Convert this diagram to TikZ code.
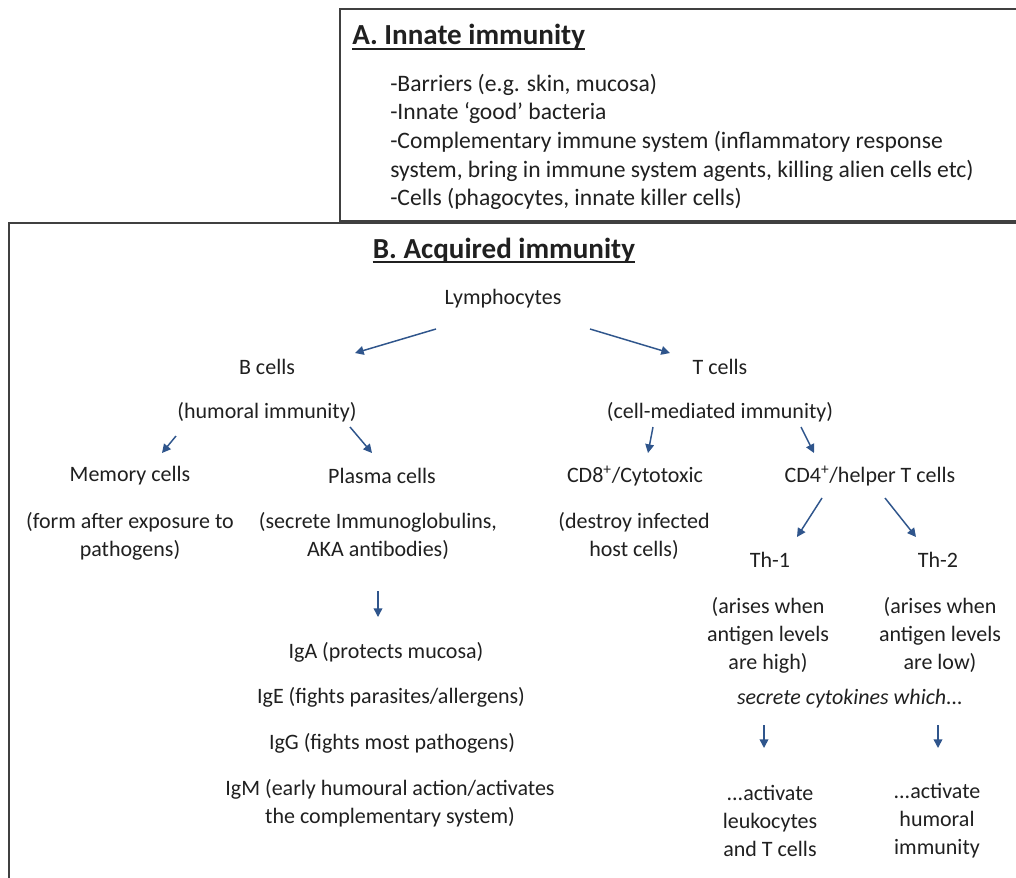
\documentclass[tikz,border=0pt]{standalone}
\usepackage{fontspec}
\setmainfont{Carlito}
\usetikzlibrary{arrows.meta}
\definecolor{arr}{RGB}{47,85,140}
\definecolor{txt}{RGB}{32,32,32}
\definecolor{frame}{RGB}{64,64,64}
\begin{document}
\begin{tikzpicture}[x=0.75pt,y=-0.75pt,
  every node/.style={text=txt, font=\fontsize{16.5}{21}\selectfont, inner sep=0pt},
  lbl/.style={align=center},
  inn/.style={anchor=west, font=\fontsize{17.7}{21}\selectfont},
  arrow/.style={draw=arr, line width=1.1pt, -{Triangle[length=6.5pt,width=6.5pt]}},
  ttl/.style={font=\fontsize{21.8}{26}\selectfont\bfseries},
  box/.style={draw=frame, line width=1.5pt},
  uline/.style={draw=txt, line width=1.4pt}]
\useasboundingbox (0,0) rectangle (1016,877);
\clip (0,0) rectangle (1016,877);
\fill[white] (0,0) rectangle (1016,877);
% boxes
\draw[box] (340,9) rectangle (1040,221);
\draw[box] (9,223) rectangle (1040,900);
% A
\node[ttl, anchor=base west] (titleA) at (352,45) {A. Innate immunity};
\draw[uline] ([yshift=-3pt]titleA.base west) -- ([yshift=-3pt]titleA.base east);
\node[inn] (in1) at (390,85) {-Barriers (e.g. skin, mucosa)};
\node[inn] (in2) at (390,113) {-Innate ‘good’ bacteria};
\node[inn] (in3) at (390,142) {-Complementary immune system (inflammatory response};
\node[inn] (in4) at (390,171) {system, bring in immune system agents, killing alien cells etc)};
\node[inn] (in5) at (390,199) {-Cells (phagocytes, innate killer cells)};
% B
\node[ttl, anchor=base] (titleB) at (504,258) {B. Acquired immunity};
\draw[uline] ([yshift=-3pt]titleB.base west) -- ([yshift=-3pt]titleB.base east);
\node (lym) at (503,299) {Lymphocytes};
\node (bc) at (267,367) {B cells};
\node (tc) at (720,367) {T cells};
\node (hum) at (267,412) {(humoral immunity)};
\node (cmi) at (720,412) {(cell-mediated immunity)};
\node (mem) at (130,476) {Memory cells};
\node (pla) at (382,476) {Plasma cells};
\node (cd8) at (635,476) {CD8\textsuperscript{+}/Cytotoxic};
\node (cd4) at (870,476) {CD4\textsuperscript{+}/helper T cells};
\node[lbl] (memd) at (130,536) {(form after exposure to\\pathogens)};
\node[lbl] (plad) at (378,536) {(secrete Immunoglobulins,\\AKA antibodies)};
\node[lbl] (cd8d) at (634,536) {(destroy infected\\host cells)};
\node (th1) at (770,560) {Th-1};
\node (th2) at (938,560) {Th-2};
\node[lbl] (th1d) at (768,635) {(arises when\\antigen levels\\are high)};
\node[lbl] (th2d) at (940,635) {(arises when\\antigen levels\\are low)};
\node[font=\fontsize{16.5}{21}\selectfont\itshape] (cyt) at (850,699) {secrete cytokines which...};
\node (iga) at (386,652) {IgA (protects mucosa)};
\node (ige) at (391,697) {IgE (fights parasites/allergens)};
\node (igg) at (392,743) {IgG (fights most pathogens)};
\node[lbl] (igm) at (390,803) {IgM (early humoural action/activates\\the complementary system)};
\node[lbl] (act1) at (770,821) {...activate\\leukocytes\\and T cells};
\node[lbl] (act2) at (937,821) {...activate\\humoral\\immunity};
% arrow end points
\coordinate (a1s) at (436,329); \coordinate (a1e) at (355,353);
\coordinate (a2s) at (590,329); \coordinate (a2e) at (670,353);
\coordinate (a3s) at (176,436); \coordinate (a3e) at (162,453);
\coordinate (a4s) at (350,427); \coordinate (a4e) at (372,453);
\coordinate (a5s) at (653,427); \coordinate (a5e) at (648,453);
\coordinate (a6s) at (801,427); \coordinate (a6e) at (814,453);
\coordinate (a7s) at (822,498); \coordinate (a7e) at (797,537);
\coordinate (a8s) at (885,498); \coordinate (a8e) at (916,537);
\coordinate (a9s) at (378,591); \coordinate (a9e) at (378,617);
\coordinate (a10s) at (764,725); \coordinate (a10e) at (764,748);
\coordinate (a11s) at (938,725); \coordinate (a11e) at (938,748);
\foreach \i in {1,...,11} \draw[arrow] (a\i s) -- (a\i e);
\end{tikzpicture}
\end{document}
